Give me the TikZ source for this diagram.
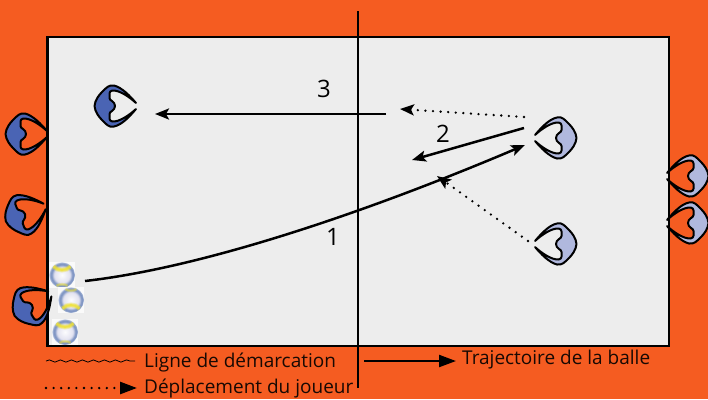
\documentclass[tikz,border=0pt]{standalone}
\usepackage{fontspec}
\setmainfont{Open Sans}
\usetikzlibrary{arrows.meta,decorations.pathmorphing}
\definecolor{bgorange}{RGB}{245,92,33}
\definecolor{fieldgray}{RGB}{237,237,237}
\definecolor{darkpl}{RGB}{74,100,180}
\definecolor{lightpl}{RGB}{176,184,222}
\definecolor{ballring}{RGB}{128,150,196}
\definecolor{ballyel}{RGB}{240,226,50}
\definecolor{ballmid}{RGB}{226,226,240}
\pgfdeclareradialshading{ballsh}{\pgfpoint{0bp}{0bp}}{
  color(0bp)=(white!90!ballmid);
  color(15bp)=(ballmid);
  color(20bp)=(ballring);
  color(23bp)=(ballring);
  color(25bp)=(white!80!ballring);
  color(50bp)=(white!80!ballring)}
\tikzset{
  x=1pt,y=-1pt,
  tipA/.style={-{Stealth[length=14pt,width=11pt,inset=3pt]}},
  shot/.style={line width=2.5pt,tipA},
  run/.style={line width=2.6pt,line cap=round,dash pattern=on 0pt off 7.6pt,tipA},
  lab/.style={font=\fontsize{24}{28}\selectfont,inner sep=0pt},
  legend/.style={font=\fontsize{19}{23}\selectfont,anchor=west,inner sep=0pt,text=black!90!bgorange},
  pics/player/.style={code={
    \draw[fill=#1,line width=2pt,line join=round]
      (21,-3) .. controls (15,-10) and (7,-18.5) .. (-1,-20.5)
      .. controls (-6,-21.5) and (-9,-18) .. (-13,-14)
      .. controls (-16,-11) and (-20,-6) .. (-20.5,0)
      .. controls (-20,6) and (-16,11) .. (-13,14)
      .. controls (-9,18) and (-6,22) .. (-1,20.5)
      .. controls (7,19) and (15,10) .. (21,3)
      .. controls (14,9.5) and (4,16) .. (-2.5,15.5)
      .. controls (-6.5,15) and (-5.5,11) .. (-5.5,8)
      .. controls (-5.5,5) and (0,5) .. (0,0)
      .. controls (0,-5) and (-5.5,-5) .. (-5.5,-8)
      .. controls (-5.5,-11) and (-6.5,-15) .. (-2.5,-15.5)
      .. controls (4,-16) and (14,-9.5) .. (21,-3) -- cycle;
  }},
  pics/ball/.style={code={
    \fill[white!75!fieldgray] (-13,-13) rectangle (13,13);
    \shade[shading=ballsh] (0,0) circle (13);
    \foreach \w/\o in {5/.3,3.4/.45,1.8/.7}
      \draw[ballyel,line width=\w pt,opacity=\o] (-8.5,-8.5) arc[start angle=135,end angle=45,radius=12];
    \foreach \w/\o in {3/.3,1.4/.4}
      \draw[ballyel,line width=\w pt,opacity=\o] (-5.4,10.7) arc[start angle=-117,end angle=-63,radius=12];
  }}
}
\begin{document}
\begin{tikzpicture}
\useasboundingbox (0,0) rectangle (708,399);
\fill[bgorange] (0,0) rectangle (708,399);
\draw[fill=fieldgray,line width=2.6pt] (47.5,37) rectangle (669,346);
\coordinate (nettop) at (358,11);
\coordinate (netbot) at (358,388);
\draw[line width=2.4pt] (nettop) -- (netbot);

\pic at (115,106) {player=darkpl};
\pic at (26,134) {player=darkpl};
\pic[rotate=21] at (25,214) {player=darkpl};
\pic[rotate=180] at (556,138) {player=lightpl};
\pic[rotate=180] at (556,244) {player=lightpl};
\pic[rotate=180] at (688,176) {player=lightpl};
\pic[rotate=180] at (688,223) {player=lightpl};

\pic at (62,275) {ball};
\pic[rotate=180] at (71,300) {ball};
\pic at (65,332) {ball};
\pic[rotate=32] at (32,305) {player=darkpl};

\coordinate (s3a) at (386,114);
\coordinate (s3b) at (155,114);
\coordinate (d3a) at (524,117);
\coordinate (d3b) at (400,109);
\coordinate (s2a) at (524,128);
\coordinate (s2b) at (412,160);
\coordinate (s1a) at (85,281);
\coordinate (s1b) at (525,145);
\coordinate (d1a) at (528,241);
\coordinate (d1b) at (437,176);
\draw[shot] (s3a) -- (s3b);
\draw[run] (d3a) -- (d3b);
\draw[shot] (s2a) -- (s2b);
\draw[shot] (s1a) .. controls (200,268) and (360,215) .. (s1b);
\draw[run] (d1a) -- (d1b);

\node[lab] (n3) at (324,89) {3};
\node[lab] (n2) at (443,134) {2};
\node[lab] (n1) at (333,237) {1};

\coordinate (w1) at (46,361);
\coordinate (w2) at (135,361);
\draw[line width=.8pt,decorate,decoration={snake,amplitude=1.1pt,segment length=11pt}] (w1) -- (w2);
\node[legend] (t1) at (144,362) {Ligne de démarcation};
\coordinate (r1) at (46,388);
\coordinate (r2) at (137,388);
\draw[run,-{Stealth[length=17pt,width=12pt,inset=0pt]}] (r1) -- (r2);
\node[legend] (t2) at (144,388) {Déplacement du joueur};
\coordinate (j1) at (364,361);
\coordinate (j2) at (456,361);
\draw[line width=2.2pt,-{Stealth[length=17pt,width=12pt,inset=0pt]}] (j1) -- (j2);
\node[legend] (t3) at (462,360) {Trajectoire de la balle};
\end{tikzpicture}
\end{document}
